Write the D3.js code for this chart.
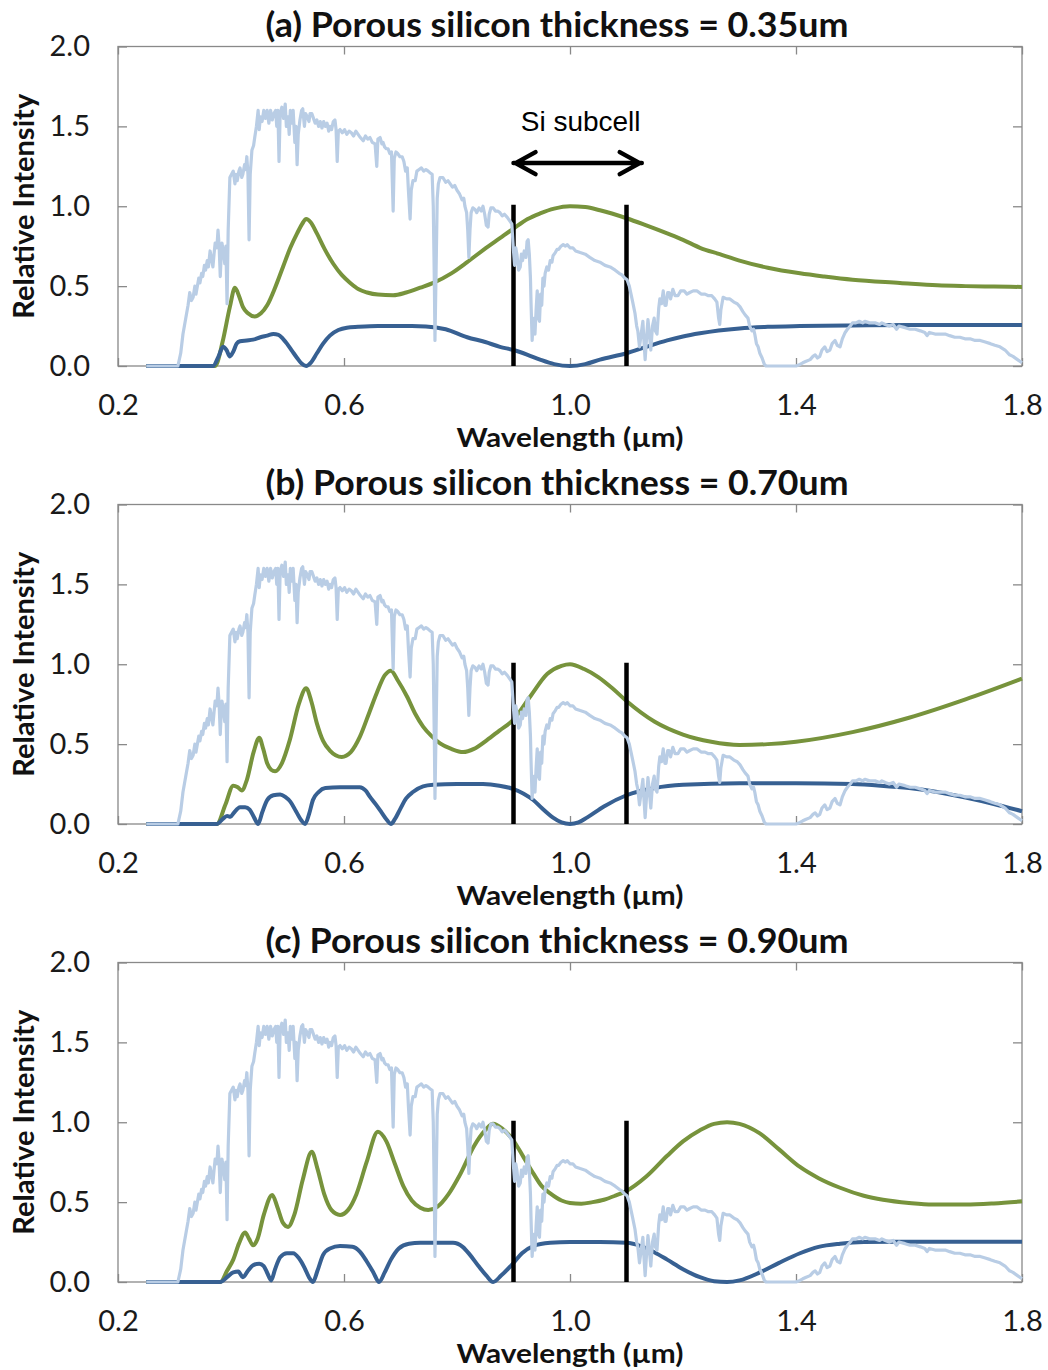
<!DOCTYPE html>
<html>
<head>
<meta charset="utf-8">
<script src="https://cdn.jsdelivr.net/npm/d3@7"></script>
<style>
body { margin: 0; background: #fff; }
</style>
</head>
<body>
<script>
// panel titles and axis ticks
var titles = [
    "(a) Porous silicon thickness = 0.35um",
    "(b) Porous silicon thickness = 0.70um",
    "(c) Porous silicon thickness = 0.90um"
];
var xTicks = [0.2, 0.6, 1.0, 1.4, 1.8];
var yTicks = [0, 0.5, 1.0, 1.5, 2.0];
var subcellEdges = [0.9, 1.1];
var subcellArrow = [0.9, 1.127];

// solar spectrum (wavelength um, relative intensity), same in all panels
var solar = [[0.25,0],[0.306,0],[0.311,0.08],[0.315,0.2],[0.320,0.3],[0.324,0.38],[0.327,0.46],[0.330,0.41],[0.333,0.43],[0.336,0.5],[0.338,0.45],[0.340,0.49],[0.343,0.55],[0.345,0.52],[0.348,0.58],[0.350,0.56],[0.353,0.63],[0.355,0.6],[0.358,0.66],[0.360,0.62],[0.363,0.72],[0.365,0.68],[0.368,0.62],[0.370,0.7],[0.372,0.77],[0.375,0.74],[0.377,0.85],[0.379,0.75],[0.381,0.56],[0.383,0.72],[0.384,0.77],[0.387,0.7],[0.389,0.64],[0.391,0.75],[0.393,0.39],[0.395,0.85],[0.398,1.18],[0.401,1.2],[0.404,1.22],[0.407,1.14],[0.409,1.2],[0.411,1.16],[0.414,1.22],[0.416,1.24],[0.419,1.18],[0.421,1.2],[0.424,1.26],[0.426,1.23],[0.428,1.31],[0.430,1.2],[0.432,0.79],[0.434,1.2],[0.437,1.35],[0.440,1.38],[0.442,1.43],[0.445,1.5],[0.448,1.6],[0.450,1.48],[0.452,1.56],[0.455,1.53],[0.458,1.6],[0.461,1.55],[0.464,1.6],[0.467,1.52],[0.470,1.6],[0.473,1.54],[0.476,1.58],[0.479,1.6],[0.481,1.5],[0.483,1.6],[0.485,1.28],[0.487,1.58],[0.490,1.62],[0.493,1.55],[0.496,1.64],[0.498,1.5],[0.501,1.56],[0.503,1.45],[0.505,1.6],[0.508,1.52],[0.510,1.6],[0.513,1.4],[0.515,1.5],[0.517,1.26],[0.519,1.45],[0.522,1.54],[0.525,1.6],[0.527,1.61],[0.530,1.5],[0.532,1.58],[0.535,1.56],[0.538,1.53],[0.540,1.58],[0.543,1.58],[0.546,1.55],[0.549,1.52],[0.552,1.54],[0.555,1.5],[0.558,1.53],[0.561,1.49],[0.564,1.53],[0.567,1.5],[0.570,1.52],[0.573,1.47],[0.575,1.5],[0.578,1.48],[0.581,1.53],[0.584,1.54],[0.586,1.48],[0.588,1.28],[0.590,1.47],[0.593,1.48],[0.597,1.46],[0.601,1.48],[0.605,1.45],[0.609,1.47],[0.613,1.46],[0.617,1.44],[0.621,1.47],[0.625,1.45],[0.629,1.43],[0.634,1.41],[0.638,1.44],[0.642,1.42],[0.646,1.43],[0.650,1.4],[0.655,1.39],[0.658,1.25],[0.660,1.42],[0.664,1.43],[0.667,1.39],[0.669,1.4],[0.672,1.37],[0.675,1.36],[0.678,1.36],[0.681,1.33],[0.684,1.34],[0.687,0.97],[0.689,1.3],[0.692,1.34],[0.695,1.33],[0.699,1.31],[0.703,1.31],[0.706,1.28],[0.709,1.22],[0.712,1.24],[0.714,1.1],[0.717,0.92],[0.719,1.1],[0.722,1.16],[0.726,1.16],[0.729,1.22],[0.733,1.23],[0.737,1.24],[0.741,1.22],[0.745,1.23],[0.749,1.22],[0.752,1.21],[0.756,1.2],[0.758,1.0],[0.760,0.5],[0.761,0.16],[0.763,0.6],[0.765,1.05],[0.767,1.14],[0.770,1.18],[0.775,1.18],[0.780,1.15],[0.784,1.16],[0.788,1.14],[0.792,1.12],[0.796,1.13],[0.800,1.1],[0.804,1.08],[0.809,1.04],[0.812,1.05],[0.814,1.0],[0.817,0.96],[0.819,0.85],[0.821,0.68],[0.823,0.85],[0.825,0.96],[0.828,0.99],[0.832,0.98],[0.835,0.96],[0.839,0.99],[0.843,0.97],[0.846,1.0],[0.849,0.95],[0.852,0.88],[0.855,0.87],[0.857,0.95],[0.860,0.99],[0.864,0.99],[0.868,0.97],[0.872,0.97],[0.876,0.96],[0.880,0.94],[0.884,0.95],[0.889,0.93],[0.893,0.91],[0.897,0.89],[0.900,0.72],[0.902,0.63],[0.904,0.74],[0.906,0.7],[0.909,0.6],[0.912,0.62],[0.914,0.7],[0.916,0.66],[0.919,0.72],[0.922,0.68],[0.924,0.78],[0.926,0.79],[0.928,0.7],[0.930,0.55],[0.931,0.4],[0.933,0.16],[0.935,0.28],[0.937,0.3],[0.938,0.2],[0.940,0.35],[0.942,0.47],[0.944,0.3],[0.946,0.28],[0.948,0.45],[0.950,0.38],[0.952,0.55],[0.954,0.5],[0.956,0.58],[0.959,0.62],[0.962,0.6],[0.965,0.66],[0.968,0.65],[0.970,0.69],[0.974,0.71],[0.977,0.73],[0.980,0.73],[0.984,0.75],[0.988,0.76],[0.992,0.75],[0.995,0.76],[1.0,0.74],[1.005,0.74],[1.01,0.72],[1.018,0.71],[1.027,0.7],[1.035,0.68],[1.044,0.66],[1.053,0.65],[1.062,0.63],[1.071,0.62],[1.080,0.6],[1.087,0.58],[1.092,0.57],[1.097,0.55],[1.101,0.54],[1.105,0.5],[1.108,0.45],[1.111,0.4],[1.115,0.33],[1.118,0.25],[1.120,0.22],[1.123,0.12],[1.126,0.2],[1.129,0.28],[1.131,0.15],[1.133,0.04],[1.136,0.2],[1.138,0.29],[1.141,0.18],[1.143,0.1],[1.146,0.25],[1.149,0.3],[1.151,0.22],[1.154,0.2],[1.157,0.36],[1.159,0.42],[1.162,0.39],[1.165,0.47],[1.168,0.38],[1.170,0.38],[1.173,0.46],[1.175,0.46],[1.178,0.42],[1.182,0.48],[1.186,0.44],[1.191,0.44],[1.196,0.47],[1.202,0.47],[1.207,0.45],[1.212,0.46],[1.218,0.47],[1.225,0.47],[1.232,0.45],[1.239,0.45],[1.245,0.44],[1.251,0.44],[1.256,0.42],[1.260,0.4],[1.263,0.3],[1.265,0.26],[1.267,0.35],[1.271,0.43],[1.277,0.42],[1.283,0.42],[1.29,0.4],[1.296,0.39],[1.301,0.37],[1.306,0.34],[1.31,0.32],[1.315,0.3],[1.318,0.25],[1.322,0.22],[1.325,0.23],[1.327,0.2],[1.330,0.14],[1.333,0.12],[1.336,0.08],[1.340,0.05],[1.344,0.01],[1.347,0],[1.40,0],[1.407,0.01],[1.412,0.02],[1.418,0.03],[1.425,0.04],[1.43,0.06],[1.434,0.07],[1.438,0.05],[1.442,0.06],[1.446,0.1],[1.451,0.12],[1.455,0.09],[1.460,0.1],[1.464,0.14],[1.469,0.16],[1.473,0.13],[1.478,0.12],[1.482,0.17],[1.487,0.21],[1.491,0.23],[1.496,0.25],[1.5,0.27],[1.506,0.27],[1.512,0.28],[1.518,0.27],[1.522,0.28],[1.53,0.27],[1.54,0.27],[1.548,0.26],[1.552,0.27],[1.558,0.26],[1.565,0.25],[1.572,0.26],[1.578,0.23],[1.582,0.25],[1.593,0.24],[1.602,0.23],[1.611,0.23],[1.62,0.22],[1.628,0.21],[1.632,0.19],[1.636,0.21],[1.646,0.2],[1.655,0.2],[1.664,0.2],[1.672,0.19],[1.681,0.18],[1.69,0.18],[1.699,0.17],[1.708,0.17],[1.717,0.16],[1.726,0.16],[1.735,0.15],[1.744,0.14],[1.752,0.13],[1.761,0.12],[1.770,0.1],[1.778,0.07],[1.784,0.06],[1.792,0.04],[1.8,0.02]];

// green curves
var greenA = [[0.25,0],[0.372,0],[0.385,0.15],[0.398,0.37],[0.407,0.49],[0.414,0.44],[0.421,0.37],[0.430,0.33],[0.442,0.31],[0.453,0.33],[0.464,0.38],[0.478,0.49],[0.492,0.62],[0.505,0.74],[0.517,0.83],[0.526,0.89],[0.533,0.92],[0.541,0.9],[0.552,0.83],[0.566,0.73],[0.581,0.64],[0.596,0.57],[0.611,0.52],[0.626,0.48],[0.641,0.46],[0.66,0.447],[0.687,0.443],[0.71,0.46],[0.735,0.49],[0.758,0.52],[0.790,0.58],[0.818,0.65],[0.848,0.73],[0.876,0.8],[0.9,0.86],[0.925,0.92],[0.947,0.955],[0.972,0.985],[1.0,1.0],[1.027,0.995],[1.053,0.975],[1.1,0.925],[1.135,0.88],[1.172,0.83],[1.2,0.79],[1.23,0.74],[1.265,0.7],[1.3,0.66],[1.35,0.615],[1.407,0.58],[1.45,0.56],[1.5,0.54],[1.584,0.52],[1.65,0.505],[1.7,0.5],[1.75,0.497],[1.8,0.495]];
var greenB = [[0.25,0],[0.375,0],[0.39,0.12],[0.404,0.24],[0.412,0.23],[0.419,0.21],[0.428,0.275],[0.44,0.45],[0.45,0.54],[0.457,0.47],[0.464,0.38],[0.471,0.34],[0.478,0.33],[0.49,0.38],[0.504,0.525],[0.52,0.75],[0.533,0.85],[0.542,0.77],[0.552,0.63],[0.563,0.52],[0.575,0.46],[0.596,0.42],[0.612,0.45],[0.628,0.545],[0.645,0.7],[0.658,0.82],[0.672,0.93],[0.683,0.96],[0.695,0.9],[0.712,0.795],[0.726,0.69],[0.740,0.61],[0.755,0.55],[0.770,0.505],[0.79,0.47],[0.811,0.45],[0.83,0.47],[0.853,0.525],[0.875,0.585],[0.899,0.65],[0.93,0.8],[0.96,0.94],[0.985,0.99],[1.0,1.0],[1.025,0.97],[1.05,0.92],[1.075,0.85],[1.1,0.77],[1.15,0.64],[1.2,0.56],[1.25,0.515],[1.3,0.495],[1.35,0.5],[1.4,0.515],[1.5,0.575],[1.6,0.665],[1.7,0.78],[1.8,0.91]];
var greenC = [[0.25,0],[0.381,0],[0.393,0.07],[0.404,0.14],[0.414,0.24],[0.425,0.31],[0.432,0.27],[0.439,0.23],[0.447,0.27],[0.458,0.42],[0.473,0.545],[0.482,0.47],[0.492,0.37],[0.501,0.345],[0.512,0.42],[0.527,0.64],[0.543,0.815],[0.553,0.71],[0.565,0.55],[0.578,0.45],[0.593,0.42],[0.607,0.45],[0.622,0.55],[0.64,0.75],[0.66,0.94],[0.675,0.88],[0.69,0.74],[0.705,0.6],[0.72,0.51],[0.735,0.465],[0.749,0.45],[0.765,0.47],[0.785,0.55],[0.805,0.67],[0.83,0.85],[0.85,0.95],[0.864,0.99],[0.88,0.96],[0.899,0.89],[0.918,0.78],[0.935,0.68],[0.95,0.6],[0.965,0.555],[0.985,0.51],[1.0,0.495],[1.02,0.49],[1.04,0.5],[1.06,0.515],[1.08,0.54],[1.1,0.57],[1.135,0.66],[1.172,0.79],[1.2,0.88],[1.23,0.95],[1.255,0.99],[1.278,1.0],[1.3,0.99],[1.336,0.93],[1.37,0.83],[1.407,0.72],[1.44,0.65],[1.478,0.59],[1.52,0.54],[1.554,0.515],[1.6,0.495],[1.642,0.485],[1.7,0.485],[1.75,0.492],[1.8,0.505]];

// blue curves
var blueA = [[0.25,0],[0.368,0],[0.378,0.06],[0.386,0.12],[0.392,0.1],[0.398,0.06],[0.404,0.09],[0.410,0.14],[0.416,0.155],[0.428,0.16],[0.439,0.165],[0.452,0.18],[0.464,0.19],[0.475,0.2],[0.484,0.195],[0.492,0.17],[0.499,0.14],[0.508,0.095],[0.517,0.05],[0.525,0.015],[0.533,0],[0.541,0.02],[0.552,0.08],[0.563,0.14],[0.575,0.19],[0.59,0.225],[0.605,0.24],[0.625,0.245],[0.66,0.25],[0.72,0.25],[0.745,0.248],[0.78,0.23],[0.818,0.18],[0.85,0.15],[0.876,0.12],[0.9,0.1],[0.925,0.07],[0.947,0.04],[0.972,0.012],[1.0,0],[1.027,0.012],[1.053,0.04],[1.1,0.08],[1.135,0.12],[1.172,0.16],[1.2,0.185],[1.23,0.205],[1.3,0.235],[1.35,0.245],[1.407,0.25],[1.5,0.254],[1.6,0.256],[1.8,0.256]];
var blueB = [[0.25,0],[0.375,0],[0.385,0.03],[0.393,0.05],[0.399,0.045],[0.405,0.07],[0.416,0.105],[0.425,0.105],[0.433,0.09],[0.441,0.04],[0.448,0],[0.455,0.07],[0.464,0.15],[0.475,0.18],[0.487,0.185],[0.496,0.17],[0.505,0.14],[0.515,0.08],[0.525,0.02],[0.531,0],[0.538,0.06],[0.545,0.15],[0.555,0.2],[0.567,0.225],[0.593,0.23],[0.628,0.23],[0.638,0.21],[0.646,0.17],[0.657,0.12],[0.667,0.07],[0.676,0.025],[0.683,0],[0.690,0.03],[0.699,0.09],[0.71,0.16],[0.722,0.2],[0.74,0.235],[0.758,0.245],[0.8,0.25],[0.846,0.25],[0.875,0.24],[0.899,0.22],[0.918,0.19],[0.935,0.15],[0.95,0.1],[0.97,0.04],[0.985,0.01],[1.0,0],[1.015,0.01],[1.03,0.04],[1.06,0.11],[1.1,0.18],[1.15,0.225],[1.2,0.245],[1.3,0.255],[1.4,0.255],[1.5,0.25],[1.55,0.24],[1.6,0.225],[1.65,0.2],[1.7,0.165],[1.75,0.125],[1.8,0.08]];
var blueC = [[0.25,0],[0.381,0],[0.393,0.03],[0.404,0.06],[0.413,0.065],[0.421,0.03],[0.43,0.07],[0.439,0.105],[0.45,0.115],[0.458,0.1],[0.465,0.05],[0.471,0.01],[0.478,0.08],[0.487,0.155],[0.499,0.18],[0.51,0.18],[0.52,0.15],[0.53,0.09],[0.538,0.03],[0.545,0],[0.553,0.07],[0.563,0.17],[0.575,0.21],[0.593,0.225],[0.615,0.22],[0.628,0.19],[0.64,0.13],[0.652,0.06],[0.662,0],[0.672,0.06],[0.683,0.14],[0.697,0.21],[0.715,0.24],[0.735,0.245],[0.793,0.245],[0.81,0.22],[0.823,0.17],[0.838,0.1],[0.852,0.04],[0.864,0],[0.878,0.04],[0.899,0.115],[0.915,0.18],[0.935,0.225],[0.965,0.245],[1.0,0.25],[1.053,0.25],[1.1,0.245],[1.125,0.225],[1.15,0.185],[1.172,0.14],[1.2,0.08],[1.23,0.03],[1.255,0.005],[1.278,0],[1.3,0.01],[1.336,0.06],[1.37,0.12],[1.407,0.18],[1.44,0.22],[1.478,0.24],[1.52,0.25],[1.6,0.252],[1.8,0.252]];

var panels = [
    {title: titles[0], green: greenA, blue: blueA, arrow: true},
    {title: titles[1], green: greenB, blue: blueB, arrow: false},
    {title: titles[2], green: greenC, blue: blueC, arrow: false}
];

var width = 1048, height = 1370;
var left = 118, right = 1022;
var panelTop = 46.5, panelH = 319.5, step = 458;
var frameColor = "#898989";
var labelFont = "Lato, 'Open Sans', sans-serif";

var svg = d3.select("body").append("svg")
    .attr("width", width)
    .attr("height", height)
    .style("background", "#fff");

var x = d3.scaleLinear().domain([0.2, 1.8]).range([left, right]);
var y = d3.scaleLinear().domain([0, 2]).range([panelH, 0]);

var smooth = d3.line()
    .x(function(d) { return x(d[0]); })
    .y(function(d) { return y(d[1]); })
    .curve(d3.curveMonotoneX);
var raw = d3.line()
    .x(function(d) { return x(d[0]); })
    .y(function(d) { return y(d[1]); });

function styleAxis(sel) {
    sel.select(".domain").remove();
    sel.selectAll(".tick line").attr("stroke", frameColor).attr("stroke-width", 1.3);
    sel.selectAll(".tick text")
        .attr("fill", "#1a1a1a")
        .style("font-family", labelFont)
        .style("font-size", "29px");
}

panels.forEach(function(p, i) {
    var g = svg.append("g").attr("transform", "translate(0," + (panelTop + i * step) + ")");

    // frame
    g.append("rect")
        .attr("x", left).attr("y", 0)
        .attr("width", right - left).attr("height", panelH)
        .attr("fill", "none")
        .attr("stroke", frameColor)
        .attr("stroke-width", 1.3);

    // inward ticks on all four sides
    g.append("g").attr("transform", "translate(0," + panelH + ")")
        .call(d3.axisBottom(x).tickValues(xTicks).tickFormat(d3.format(".1f"))
            .tickSizeInner(-8).tickSizeOuter(0).tickPadding(28))
        .call(styleAxis);
    g.append("g").attr("transform", "translate(" + left + ",0)")
        .call(d3.axisLeft(y).tickValues(yTicks).tickFormat(d3.format(".1f"))
            .tickSizeInner(-9).tickSizeOuter(0).tickPadding(28))
        .call(styleAxis);
    g.append("g")
        .call(d3.axisTop(x).tickValues(xTicks).tickFormat("").tickSizeInner(-8).tickSizeOuter(0))
        .call(styleAxis);
    g.append("g").attr("transform", "translate(" + right + ",0)")
        .call(d3.axisRight(y).tickValues(yTicks).tickFormat("").tickSizeInner(-9).tickSizeOuter(0))
        .call(styleAxis);

    // curves
    g.append("path").datum(p.green)
        .attr("d", smooth)
        .attr("fill", "none")
        .attr("stroke", "#77933C")
        .attr("stroke-width", 4)
        .attr("stroke-linejoin", "round");
    g.append("path").datum(p.blue)
        .attr("d", smooth)
        .attr("fill", "none")
        .attr("stroke", "#376092")
        .attr("stroke-width", 4)
        .attr("stroke-linejoin", "round");

    // Si subcell edges
    g.selectAll(".edge").data(subcellEdges).enter()
        .append("line")
        .attr("x1", function(d) { return x(d); })
        .attr("x2", function(d) { return x(d); })
        .attr("y1", y(1.01))
        .attr("y2", y(0))
        .attr("stroke", "#000")
        .attr("stroke-width", 4.5);

    g.append("path").datum(solar)
        .attr("d", raw)
        .attr("fill", "none")
        .attr("stroke", "#B9CDE5")
        .attr("stroke-width", 3.2)
        .attr("stroke-linejoin", "round");

    // title and axis labels
    g.append("text")
        .attr("x", 557).attr("y", -10)
        .attr("text-anchor", "middle")
        .attr("textLength", 583)
        .attr("lengthAdjust", "spacingAndGlyphs")
        .style("font-family", labelFont)
        .style("font-weight", "bold")
        .style("font-size", "34px")
        .attr("fill", "#111")
        .text(p.title);

    g.append("text")
        .attr("x", x(1.0)).attr("y", panelH + 81)
        .attr("text-anchor", "middle")
        .attr("textLength", 227)
        .attr("lengthAdjust", "spacingAndGlyphs")
        .style("font-family", labelFont)
        .style("font-weight", "bold")
        .style("font-size", "27px")
        .attr("fill", "#111")
        .text("Wavelength (\u00b5m)");

    g.append("text")
        .attr("transform", "translate(34," + (panelH / 2) + ") rotate(-90)")
        .attr("text-anchor", "middle")
        .attr("textLength", 225)
        .attr("lengthAdjust", "spacingAndGlyphs")
        .style("font-family", labelFont)
        .style("font-weight", "bold")
        .style("font-size", "28px")
        .attr("fill", "#111")
        .text("Relative Intensity");

    if (p.arrow) {
        var ay = y(1.27);
        var x1 = x(subcellArrow[0]), x2 = x(subcellArrow[1]);
        g.append("text")
            .attr("x", (x1 + x2) / 2 + 3).attr("y", y(1.47))
            .attr("text-anchor", "middle")
            .style("font-family", "'Liberation Sans', Arial, sans-serif")
            .style("font-size", "28px")
            .attr("fill", "#000")
            .text("Si subcell");
        g.append("path")
            .attr("d", "M" + x1 + "," + ay + "H" + x2 +
                "M" + (x1 + 22) + "," + (ay - 11) + "L" + (x1 + 2) + "," + ay + "L" + (x1 + 22) + "," + (ay + 11) +
                "M" + (x2 - 22) + "," + (ay - 11) + "L" + (x2 - 2) + "," + ay + "L" + (x2 - 22) + "," + (ay + 11))
            .attr("fill", "none")
            .attr("stroke", "#000")
            .attr("stroke-width", 4.5)
            .attr("stroke-linecap", "round")
            .attr("stroke-linejoin", "round");
    }
});
</script>
</body>
</html>
